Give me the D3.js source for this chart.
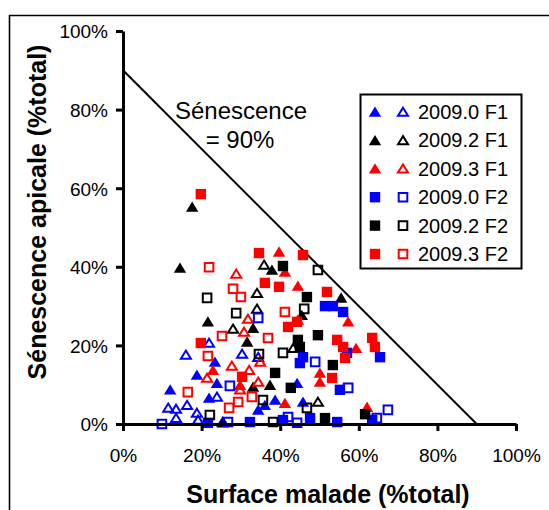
<!DOCTYPE html>
<html>
<head>
<meta charset="utf-8">
<script src="https://cdn.jsdelivr.net/npm/d3@7"></script>
<style>
  body { margin: 0; background: #fff; }
  text { font-family: Arial, "Liberation Sans", sans-serif; }
</style>
</head>
<body>
<script>
// values in % : [surface malade, senescence apicale]
const b0F1_fill = [[12.0,8.7],[18.8,12.5],[23.4,15.8],[23.9,10.4],[21.9,6.6],[34.4,3.6],[36.1,4.8],[38.7,6.1],[44.3,10.4],[45.8,5.6]];
const b0F1_open = [[11.5,4.1],[13.5,3.8],[13.5,1.5],[16.0,17.6],[16.3,4.8],[18.8,2.8],[19.1,1.0],[21.9,20.6],[30.3,17.8],[25.4,0.5],[34.4,17.0],[23.9,6.9]];
const b2F1_fill = [[17.6,55.2],[14.5,39.7],[21.6,26.0],[31.6,20.9],[33.1,9.4],[37.4,9.9],[25.4,0.3],[33.1,24.4],[37.9,39.2],[45.5,27.7],[55.5,32.1]];
const b2F1_open = [[28.0,24.2],[35.9,40.5],[34.1,33.3],[34.1,29.3],[43.3,19.3],[49.6,5.6]];
const b3F1_fill = [[22.9,13.7],[29.8,9.9],[39.7,43.8],[41.2,38.7],[44.5,35.1],[44.5,26.5],[57.3,26.0],[59.3,19.3],[50.1,13.0],[50.1,10.7],[41.2,5.3],[62.1,4.3]];
const b3F1_open = [[28.8,38.2],[31.8,26.7],[30.8,23.4],[27.7,14.8],[32.1,13.7],[21.4,11.7],[34.4,10.7],[29.8,8.7],[34.9,15.8]];
const b0F2_fill = [[21.6,0.3],[32.3,0.5],[40.7,1.0],[47.6,1.5],[54.5,0.5],[63.4,1.0],[45.8,17.0],[45.0,15.5],[51.4,30.0],[53.4,30.0],[56.0,28.5],[57.0,18.1],[65.4,17.0],[55.2,8.7]];
const b0F2_open = [[9.9,0],[27.2,9.7],[26.7,0.5],[34.4,27.0],[48.9,15.8],[57.3,9.2],[42.0,1.8],[44.3,0.3],[64.6,1.5],[67.4,3.6]];
const b2F2_fill = [[40.7,40.2],[46.8,32.3],[44.5,21.4],[45.0,19.6],[49.6,22.6],[53.4,15.0],[38.7,13.0],[42.7,9.2],[51.4,1.5],[61.6,2.5]];
const b2F2_open = [[21.4,32.1],[28.8,28.2],[34.6,17.8],[35.6,6.1],[22.1,2.3],[49.6,39.2],[46.1,29.3],[40.7,18.1],[46.8,4.1],[38.2,0.5]];
const b3F2_fill = [[19.8,58.5],[19.8,20.6],[30.3,12.0],[34.6,43.5],[45.8,43.0],[36.1,35.9],[39.7,34.9],[51.9,33.6],[42.0,24.7],[44.3,26.0],[54.5,21.4],[56.0,19.6],[63.4,21.9],[64.1,19.6],[56.5,16.8],[53.2,11.7]];
const b3F2_open = [[21.9,39.9],[28.0,34.4],[30.0,32.3],[25.2,22.4],[21.6,17.3],[16.5,8.1],[32.8,6.9],[29.3,5.6],[27.0,4.1],[36.9,21.9],[41.2,28.5]];

const labels = ["2009.0 F1", "2009.2 F1", "2009.3 F1", "2009.0 F2", "2009.2 F2", "2009.3 F2"];
const ticks = [0, 0.2, 0.4, 0.6, 0.8, 1];
const limit = 0.9; // senescence line

const series = [
  { label: labels[0], color: "#0000ff", shape: "tri", fill: b0F1_fill, open: b0F1_open },
  { label: labels[1], color: "#000000", shape: "tri", fill: b2F1_fill, open: b2F1_open },
  { label: labels[2], color: "#ff0000", shape: "tri", fill: b3F1_fill, open: b3F1_open },
  { label: labels[3], color: "#0000ff", shape: "sq", fill: b0F2_fill, open: b0F2_open },
  { label: labels[4], color: "#000000", shape: "sq", fill: b2F2_fill, open: b2F2_open },
  { label: labels[5], color: "#ff0000", shape: "sq", fill: b3F2_fill, open: b3F2_open },
];

// marker paths
function marker(shape, filled) {
  if (shape === "tri") return filled ? "M0,-5.5L6.2,4.8L-6.2,4.8Z" : "M0,-4.3L5,3.8L-5,3.8Z";
  return filled ? "M-5.2,-5.2H5.2V5.2H-5.2Z" : "M-4.3,-4.3H4.3V4.3H-4.3Z";
}

var svg = d3.select("body").append("svg")
  .attr("width", 549)
  .attr("height", 510);

svg.append("rect").attr("width", 549).attr("height", 510).attr("fill", "#fff");

// outer frame (cut by the picture edge)
svg.append("path")
  .attr("d", "M9.5,512V15.5H551")
  .attr("fill", "none")
  .attr("stroke", "#000")
  .attr("stroke-width", 1.6);

var x = d3.scaleLinear().domain([0, 1]).range([123, 516]);
var y = d3.scaleLinear().domain([0, 1]).range([424, 31]);

// diagonal
svg.append("line")
  .attr("x1", x(0)).attr("y1", y(limit))
  .attr("x2", x(limit)).attr("y2", y(0))
  .attr("stroke", "#000")
  .attr("stroke-width", 2);

svg.append("text")
  .attr("x", 241).attr("y", 119)
  .attr("text-anchor", "middle")
  .attr("font-size", "24px")
  .text("Sénescence");
svg.append("text")
  .attr("x", 240).attr("y", 148)
  .attr("text-anchor", "middle")
  .attr("font-size", "24px")
  .text("= 90%");

// points
series.forEach(function (s) {
  ["fill", "open"].forEach(function (k) {
    svg.append("g")
      .selectAll("path")
      .data(s[k])
      .enter()
      .append("path")
      .attr("transform", (d) => "translate(" + x(d[0] / 100) + "," + y(d[1] / 100) + ")")
      .attr("d", marker(s.shape, k === "fill"))
      .attr("fill", k === "fill" ? s.color : "none")
      .attr("stroke", k === "fill" ? "none" : s.color)
      .attr("stroke-width", 2);
  });
});

// axes
var fmt = d3.format(".0%");
var xAxis = svg.append("g")
  .attr("transform", "translate(0," + y(0) + ")")
  .call(d3.axisBottom(x).tickValues(ticks).tickFormat(fmt).tickSize(7).tickSizeOuter(0).tickPadding(18));
var yAxis = svg.append("g")
  .attr("transform", "translate(" + x(0) + ",0)")
  .call(d3.axisLeft(y).tickValues(ticks).tickFormat(fmt).tickSize(7).tickSizeOuter(0).tickPadding(8));

[xAxis, yAxis].forEach(function (a) {
  a.select(".domain").attr("stroke-width", 3);
  a.selectAll(".tick line").attr("stroke-width", 3);
  a.selectAll(".tick text")
    .attr("font-family", "Arial, 'Liberation Sans', sans-serif")
    .attr("font-size", "19px")
    .attr("fill", "#000");
});
yAxis.selectAll(".tick text").attr("dy", "0.36em");

// axis titles
svg.append("text")
  .attr("x", 328).attr("y", 503)
  .attr("text-anchor", "middle")
  .attr("font-size", "25px")
  .attr("font-weight", "bold")
  .text("Surface malade (%total)");
svg.append("text")
  .attr("transform", "translate(46,212) rotate(-90)")
  .attr("text-anchor", "middle")
  .attr("font-size", "25px")
  .attr("font-weight", "bold")
  .text("Sénescence apicale (%total)");

// legend
var legend = svg.append("g");
legend.append("rect")
  .attr("x", 360.5).attr("y", 94.5)
  .attr("width", 161).attr("height", 174)
  .attr("fill", "#fff")
  .attr("stroke", "#000")
  .attr("stroke-width", 2);

var rows = legend.selectAll("g.row")
  .data(series)
  .enter()
  .append("g")
  .attr("class", "row")
  .attr("transform", (d, i) => "translate(0," + (112 + i * 28.4) + ")");
rows.append("path")
  .attr("transform", "translate(375,0)")
  .attr("d", (d) => marker(d.shape, true))
  .attr("fill", (d) => d.color);
rows.append("path")
  .attr("transform", "translate(403,0)")
  .attr("d", (d) => marker(d.shape, false))
  .attr("fill", "none")
  .attr("stroke", (d) => d.color)
  .attr("stroke-width", 2);
rows.append("text")
  .attr("x", 418).attr("y", 7)
  .attr("font-size", "20px")
  .text((d) => d.label);
</script>
</body>
</html>
